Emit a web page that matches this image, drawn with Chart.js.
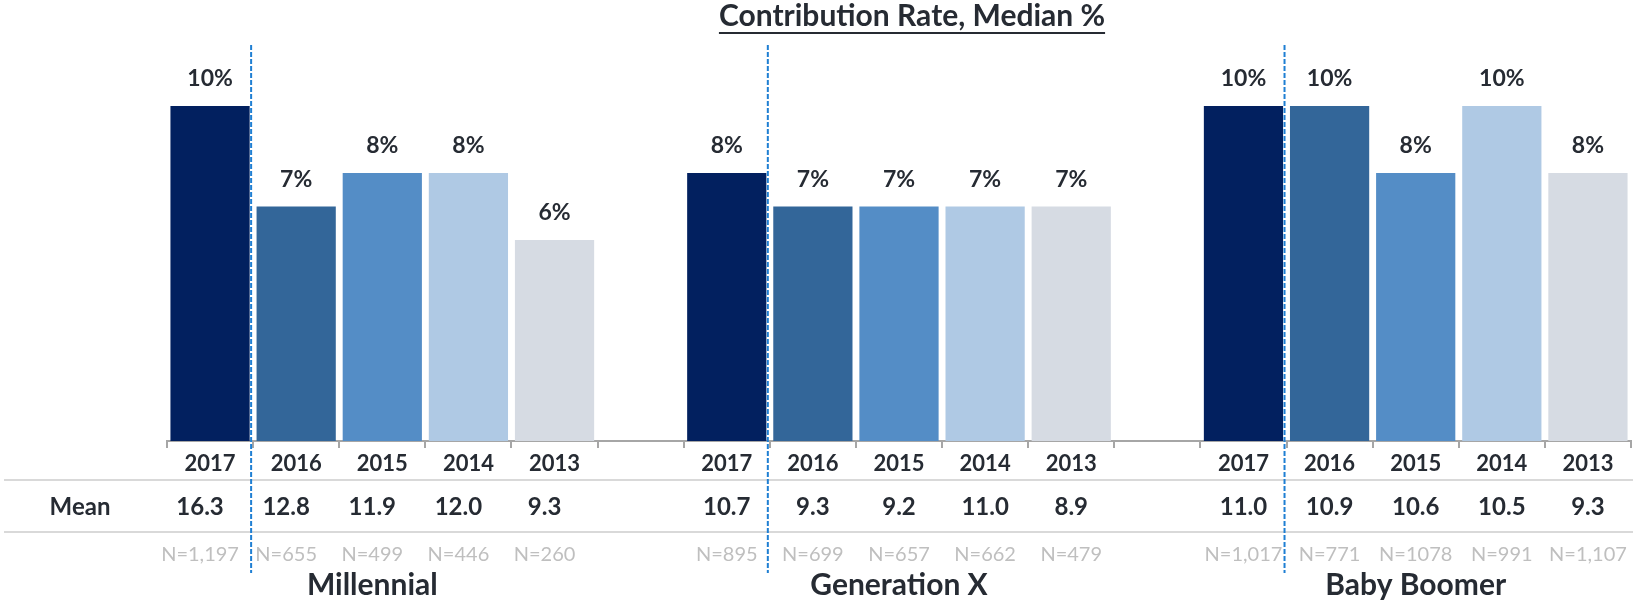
<!DOCTYPE html>
<html>
<head>
<meta charset="utf-8">
<script src="https://cdn.jsdelivr.net/npm/chart.js@4/dist/chart.umd.min.js"></script>
<style>
  html, body { margin: 0; padding: 0; background: #ffffff; }
  #c { display: block; }
</style>
</head>
<body>
<canvas id="c" width="1633" height="607"></canvas>
<script>
// ---- data ----
const chartTitle = 'Contribution Rate, Median %';
const groups = ['Millennial', 'Generation X', 'Baby Boomer'];
const years = ['2017', '2016', '2015', '2014', '2013'];
const medianMillennial = [10, 7, 8, 8, 6];
const medianGenX = [8, 7, 7, 7, 7];
const medianBoomer = [10, 10, 8, 10, 8];
const meanMillennial = ['16.3', '12.8', '11.9', '12.0', '9.3'];
const meanGenX = ['10.7', '9.3', '9.2', '11.0', '8.9'];
const meanBoomer = ['11.0', '10.9', '10.6', '10.5', '9.3'];
const nMillennial = ['N=1,197', 'N=655', 'N=499', 'N=446', 'N=260'];
const nGenX = ['N=895', 'N=699', 'N=657', 'N=662', 'N=479'];
const nBoomer = ['N=1,017', 'N=771', 'N=1078', 'N=991', 'N=1,107'];
const rowLabel = 'Mean';

// ---- styles ----
const yearColors = ['#02205f', '#336699', '#548dc6', '#afc9e4', '#d6dbe3'];
const textColor = '#262b33';
const FONT = 'Lato, "Open Sans", sans-serif';

// ---- build category table ----
const medians = [medianMillennial, medianGenX, medianBoomer];
const means = [meanMillennial, meanGenX, meanBoomer];
const ns = [nMillennial, nGenX, nBoomer];
const labels = [], values = [], colors = [], meanCells = [], nCells = [];
groups.forEach((g, gi) => {
  years.forEach((y, yi) => {
    labels.push(y);
    values.push(medians[gi][yi]);
    colors.push(yearColors[yi]);
    meanCells.push(means[gi][yi]);
    nCells.push(ns[gi][yi]);
  });
  if (gi < groups.length - 1) {
    labels.push('');
    values.push(null);
    colors.push('rgba(0,0,0,0)');
    meanCells.push('');
    nCells.push('');
  }
});
const groupOffset = [-10, 0, 0];

const overlay = {
  id: 'overlay',
  afterDatasetsDraw(chart) {
    const ctx = chart.ctx;
    const meta = chart.getDatasetMeta(0);
    ctx.save();
    ctx.fillStyle = textColor;
    ctx.font = 'bold 23px ' + FONT;
    ctx.textAlign = 'center';
    ctx.textBaseline = 'middle';
    meta.data.forEach((bar, i) => {
      const v = values[i];
      if (v === null || v === undefined) return;
      ctx.fillText(v + '%', bar.x, bar.y - 27);
    });
    ctx.restore();
  },
  afterDraw(chart) {
    const ctx = chart.ctx;
    const xs = chart.scales.x;
    const W = chart.width;
    ctx.save();
    // table lines
    ctx.strokeStyle = '#d9d9d9';
    ctx.lineWidth = 2;
    [480, 532].forEach(y => {
      ctx.beginPath(); ctx.moveTo(4, y); ctx.lineTo(W, y); ctx.stroke();
    });
    // Mean row
    ctx.textAlign = 'center';
    ctx.textBaseline = 'middle';
    ctx.fillStyle = textColor;
    ctx.font = 'bold 24px ' + FONT;
    ctx.fillText(rowLabel, 80, 507);
    groups.forEach((g, gi) => {
      const off = groupOffset[gi];
      for (let yi = 0; yi < years.length; yi++) {
        const k = gi * (years.length + 1) + yi;
        const cx = xs.getPixelForValue(k) + off;
        ctx.fillStyle = textColor;
        ctx.font = 'bold 24px ' + FONT;
        ctx.fillText(meanCells[k], cx, 507);
        ctx.fillStyle = '#bfbfbf';
        ctx.font = '20px ' + FONT;
        ctx.fillText(nCells[k], cx, 555);
      }
      const first = gi * (years.length + 1);
      const gx = (xs.getPixelForValue(first) + xs.getPixelForValue(first + years.length - 1)) / 2 + off;
      ctx.fillStyle = textColor;
      ctx.font = 'bold 30px ' + FONT;
      ctx.fillText(g, gx, 585);
      // dashed divider after 2017 bar
      const bx = (xs.getPixelForValue(first) + xs.getPixelForValue(first + 1)) / 2 - 2;
      ctx.strokeStyle = '#1f7fd3';
      ctx.lineWidth = 2;
      ctx.setLineDash([5, 2]);
      ctx.beginPath(); ctx.moveTo(bx, 45); ctx.lineTo(bx, 573); ctx.stroke();
      ctx.setLineDash([]);
    });
    // Title with underline
    ctx.font = 'bold 30px ' + FONT;
    ctx.fillStyle = textColor;
    ctx.textAlign = 'center';
    ctx.textBaseline = 'alphabetic';
    const tx = 912;
    ctx.fillText(chartTitle, tx, 26);
    const tw = ctx.measureText(chartTitle).width;
    ctx.strokeStyle = textColor;
    ctx.lineWidth = 2;
    ctx.beginPath(); ctx.moveTo(tx - tw / 2, 33); ctx.lineTo(tx + tw / 2, 33); ctx.stroke();
    ctx.restore();
  }
};

new Chart(document.getElementById('c'), {
  type: 'bar',
  data: {
    labels: labels,
    datasets: [{
      data: values,
      backgroundColor: colors,
      borderWidth: 0,
      barPercentage: 0.92,
      categoryPercentage: 1.0
    }]
  },
  options: {
    responsive: false,
    devicePixelRatio: 1,
    animation: false,
    events: [],
    layout: { padding: { left: 167, right: 2, top: 2, bottom: 0 } },
    plugins: { legend: { display: false }, tooltip: { enabled: false }, title: { display: false } },
    scales: {
      y: { display: false, min: 0, max: 13.1 },
      x: {
        afterFit(scale) { scale.height = 166; },
        grid: { offset: true, drawOnChartArea: false, drawTicks: true, tickLength: 7, color: '#a6a6a6', lineWidth: 2 },
        border: { display: true, color: '#a6a6a6', width: 2 },
        ticks: { color: textColor, font: { family: FONT, size: 22, weight: 'bold' }, padding: 3, maxRotation: 0, autoSkip: false }
      }
    }
  },
  plugins: [overlay]
});
</script>
</body>
</html>
